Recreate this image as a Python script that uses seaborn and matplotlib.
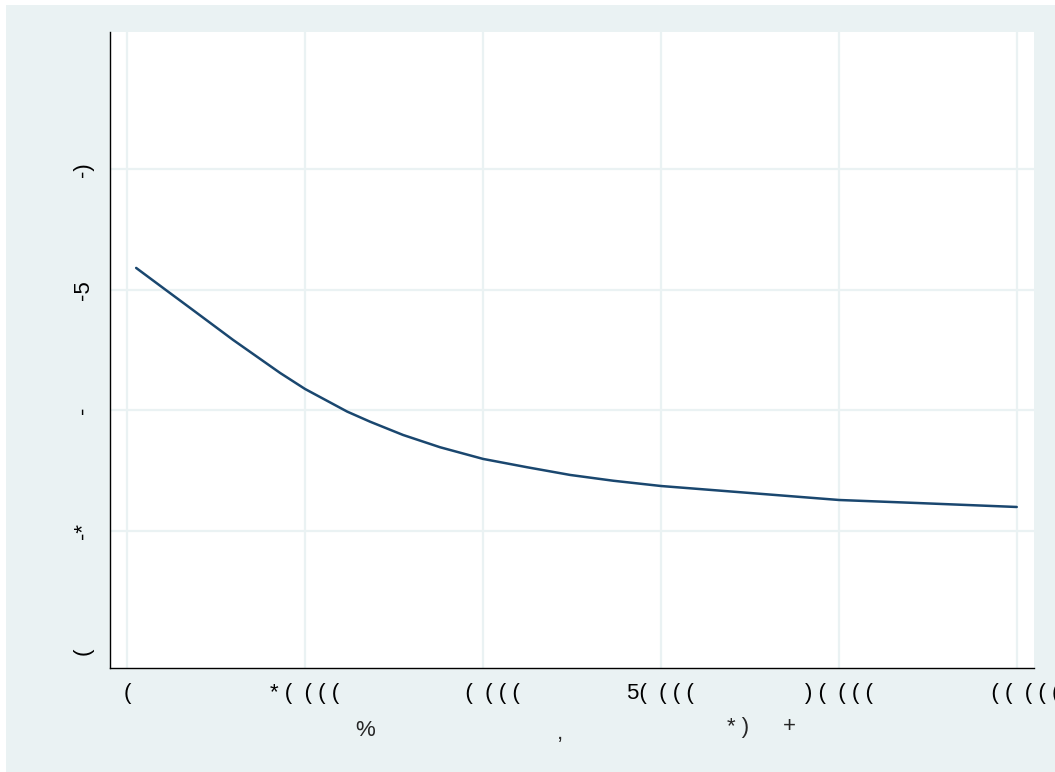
import matplotlib
matplotlib.use('Agg')
import matplotlib.pyplot as plt
import seaborn as sns
import pandas as pd
from matplotlib.patches import Rectangle

# ---- data ----
x_vals = [0.051, 0.225, 0.354, 0.596, 0.860, 1.000, 1.237, 1.366, 1.551, 1.759,
          2.001, 2.248, 2.490, 2.732, 3.002, 3.502, 4.002, 4.441, 5.0]
y_vals = [3.181, 2.990, 2.849, 2.583, 2.309, 2.176, 1.988, 1.904, 1.794, 1.692,
          1.595, 1.526, 1.462, 1.414, 1.370, 1.312, 1.254, 1.229, 1.196]

x_ticks = [0, 1, 2, 3, 4, 5]
x_tick_labels = ["(", "* (  ( ( (", "   (  ( ( (", "5(  ( ( (",
                 ") (  ( ( (", "   ( (  ( ( ("]
y_ticks = [0, 1, 2, 3, 4, 5]
y_tick_labels = ["(", "-*", "-", "-5", "-)", ""]
y_grid = [1, 2, 3, 4]

# garbled axis-title fragments (text, x px, y px)
title_bits = [("%", 365, 731), (",", 560, 733), ("* )", 738, 728), ("+", 789, 726)]

sns.set_style("white")
plt.rcParams['font.family'] = ['Liberation Sans', 'DejaVu Sans']
FS = 16

W, H = 1055, 772
fig = plt.figure(figsize=(W / 100, H / 100), dpi=100, facecolor='white')
fig.patches.append(Rectangle((6 / W, -0.01), 1.0, 1.01 - 5 / H, transform=fig.transFigure,
                             facecolor='#eaf2f3', edgecolor='none', zorder=-10))

ax = fig.add_axes([110 / W, 1 - 668 / H, (1034 - 110) / W, (668 - 32) / H])
ax.set_facecolor('white')

df = pd.DataFrame({"x": x_vals, "y": y_vals})
sns.lineplot(data=df, x="x", y="y", ax=ax, color='#1a476f', linewidth=1.8, zorder=3)

ax.set_xlim(-0.096, 5.097)
ax.set_ylim(-0.141, 5.14)
ax.set_xticks(x_ticks)
ax.set_xticklabels(x_tick_labels, fontsize=FS)
ax.set_yticks(y_ticks)
ax.set_yticklabels(y_tick_labels, fontsize=FS, rotation=90, va='center')
ax.set_xlabel("")
ax.set_ylabel("")

for s in ['top', 'right']:
    ax.spines[s].set_visible(False)
for s in ['left', 'bottom']:
    ax.spines[s].set_color('black')
    ax.spines[s].set_linewidth(1.0)

ax.tick_params(axis='both', which='major', direction='out', length=7.5, width=0.9,
               color='#333333', labelcolor='black', pad=3)
ax.tick_params(axis='y', which='major', pad=4)

ax.grid(False)
ax.grid(True, axis='x', which='major', color='#eaf2f3', linewidth=1.6)
for gy in y_grid:
    ax.axhline(gy, color='#eaf2f3', linewidth=1.6, zorder=0.5)
ax.set_axisbelow(True)

for txt, px, py in title_bits:
    fig.text(px / W, 1 - py / H, txt, ha='center', va='center', fontsize=FS)

fig.savefig('out.png', dpi=100, facecolor=fig.get_facecolor())
